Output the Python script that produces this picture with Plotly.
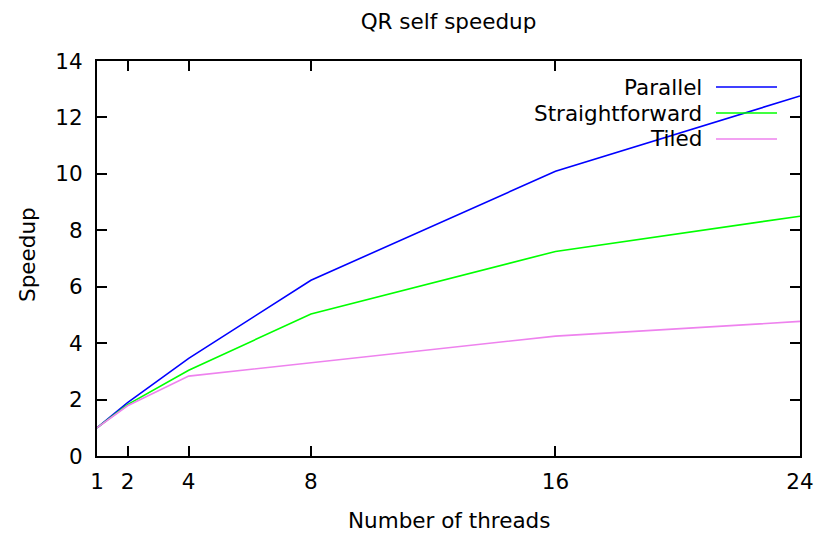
import plotly.graph_objects as go

# Thread counts and measured self speedups
threads = [1, 2, 4, 8, 16, 24]
parallel = [1.0, 1.89, 3.46, 6.23, 10.09, 12.76]
straightforward = [1.0, 1.82, 3.04, 5.03, 7.25, 8.50]
tiled = [1.0, 1.78, 2.83, 3.30, 4.25, 4.77]

series_names = ["Parallel", "Straightforward", "Tiled"]
series_values = [parallel, straightforward, tiled]
series_colors = ["#0000ff", "#00ff00", "#ee82ee"]

x_ticks = [1, 2, 4, 8, 16, 24]
y_ticks = [0, 2, 4, 6, 8, 10, 12, 14]

FONT = "DejaVu Sans"
FS = 21.5

W, H = 818, 536
L, R, T, B = 97, 18, 61, 80

fig = go.Figure()
for name, vals, col in zip(series_names, series_values, series_colors):
    fig.add_trace(go.Scatter(x=threads, y=vals, mode="lines", name=name,
                             line=dict(color=col, width=1.6), showlegend=False))

# Key in the top-right corner: right-aligned label followed by a line sample
pw, ph = W - L - R, H - T - B
row0 = 87
for i, (name, col) in enumerate(zip(series_names, series_colors)):
    yc = 1 - (row0 + 26 * i - T) / ph
    fig.add_annotation(x=(703 - L) / pw, y=yc, xref="paper", yref="paper",
                       text=name, showarrow=False, xanchor="right", yanchor="middle",
                       borderpad=0, font=dict(family=FONT, size=FS, color="black"))
    fig.add_shape(type="line", xref="paper", yref="paper",
                  x0=(716 - L) / pw, x1=(777 - L) / pw, y0=yc, y1=yc,
                  line=dict(color=col, width=1.6))

# Axis titles
fig.add_annotation(x=0.5, y=-(520 - T - ph) / ph, xref="paper", yref="paper",
                   text="Number of threads", showarrow=False, yanchor="middle",
                   font=dict(family=FONT, size=FS, color="black"))
fig.add_annotation(x=-(L - 28) / pw, y=1 - (255 - T) / ph, xref="paper", yref="paper",
                   text="Speedup", showarrow=False, textangle=-90,
                   xanchor="center", yanchor="middle",
                   font=dict(family=FONT, size=FS, color="black"))

axis_common = dict(showline=True, linecolor="black", linewidth=2, mirror="ticks",
                   ticks="inside", ticklen=10, tickwidth=1.5, tickcolor="black",
                   showgrid=False, zeroline=False, automargin=False,
                   tickfont=dict(family=FONT, size=FS, color="black"))

fig.update_layout(
    width=W, height=H,
    margin=dict(l=L, r=R, t=T, b=B, autoexpand=False),
    paper_bgcolor="white", plot_bgcolor="white",
    title=dict(text="QR self speedup", x=(L + pw / 2) / W, xanchor="center",
               y=1 - 21 / H, yanchor="middle", yref="container",
               font=dict(family=FONT, size=FS, color="black")),
    xaxis=dict(range=[1, 24], tickvals=x_ticks, ticktext=[str(v) for v in x_ticks],
               ticklabelstandoff=5, **axis_common),
    yaxis=dict(range=[0, 14], tickvals=y_ticks, ticktext=[str(v) for v in y_ticks],
               ticklabelstandoff=8, **axis_common),
)

fig.write_html("out.html")
